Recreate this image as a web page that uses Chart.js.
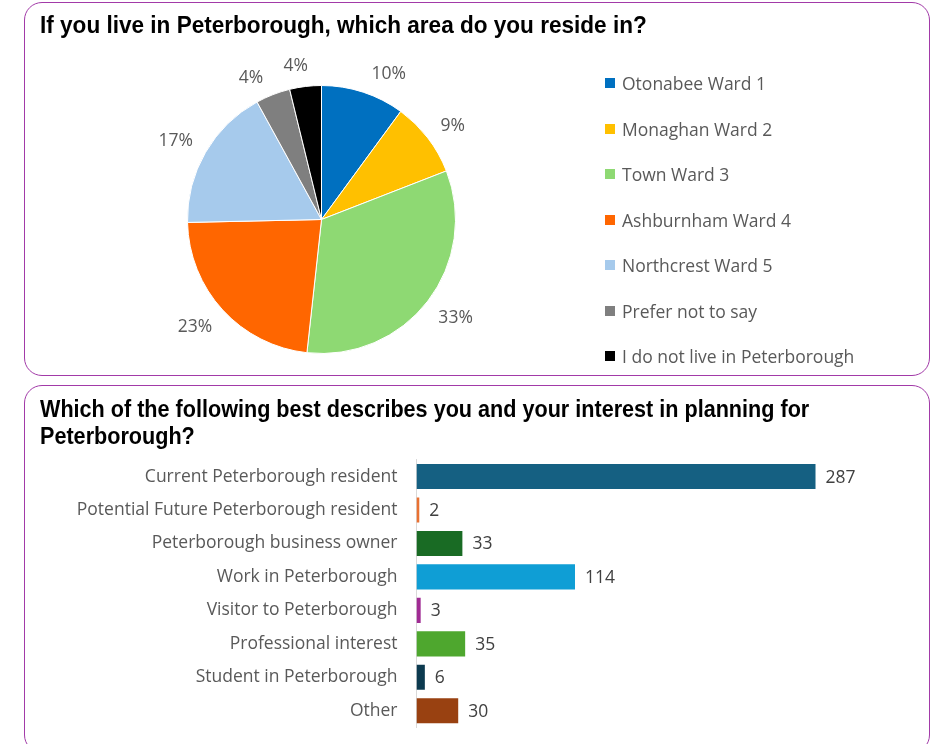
<!DOCTYPE html>
<html>
<head>
<meta charset="utf-8">
<script src="https://cdn.jsdelivr.net/npm/chart.js@4.4.1/dist/chart.umd.min.js"></script>
<style>
  body { margin: 0; background: #fff; width: 934px; height: 744px; overflow: hidden; position: relative; font-family: 'Open Sans', sans-serif; }
  .panel { position: absolute; left: 24px; width: 906px; border: 1.5px solid #a23aa8; border-radius: 18px; box-sizing: border-box; }
  #panel1 { top: 2px; height: 374px; }
  #panel2 { top: 385px; height: 368px; }
  .title { position: absolute; left: 40px; font-family: 'Liberation Sans', Arial, sans-serif; font-weight: bold; font-size: 24px; line-height: 27.3px; color: #000; white-space: nowrap; z-index: 2; transform: scaleX(0.94); transform-origin: left top; }
  #t1 { top: 11px; }
  #t2 { top: 395px; transform: scaleX(0.9); }
  .wrap { position: absolute; left: 25.5px; width: 903px; }
  #w1 { top: 3.5px; height: 371px; }
  #w2 { top: 386.5px; height: 380px; }
  #legend { position: absolute; left: 605px; top: 60.7px; margin: 0; padding: 0; list-style: none; font-size: 17.5px; color: #595959; z-index: 2; }
  #legend li { height: 45.5px; display: flex; align-items: center; white-space: nowrap; }
  #legend .box { width: 10px; height: 10px; margin-right: 7px; display: inline-block; }
</style>
</head>
<body>
<div class="panel" id="panel1"></div>
<div class="panel" id="panel2"></div>
<div class="title" id="t1">If you live in Peterborough, which area do you reside in?</div>
<div class="title" id="t2">Which of the following best describes you and your interest in planning for<br>Peterborough?</div>
<div class="wrap" id="w1"><canvas id="pieChart"></canvas></div>
<ul id="legend"></ul>
<div class="wrap" id="w2"><canvas id="barChart"></canvas></div>

<script>
// pie: area of residence
const wardNames = ['Otonabee Ward 1', 'Monaghan Ward 2', 'Town Ward 3', 'Ashburnham Ward 4',
    'Northcrest Ward 5', 'Prefer not to say', 'I do not live in Peterborough'];
const wardCounts = [29, 26, 94, 66, 50, 12, 11];
const wardColors = ['#0070c0', '#ffc000', '#8ed973', '#ff6600', '#a6caec', '#7f7f7f', '#000000'];
// small angle tweaks (degrees) so labels sit where excel put them
const labelNudge = [6.5, 1.8, -1.5, 2.4, -1.3, -5, -2.6];

// bar: interest in planning
const interestCats = ['Current Peterborough resident', 'Potential Future Peterborough resident',
    'Peterborough business owner', 'Work in Peterborough', 'Visitor to Peterborough',
    'Professional interest', 'Student in Peterborough', 'Other'];
const interestCounts = [287, 2, 33, 114, 3, 35, 6, 30];
const barColors = ['#156082', '#e97132', '#196b24', '#0f9ed5', '#a02b93', '#4ea72e', '#0c3a4f', '#994111'];

const labelFont = '17.5px "Open Sans"';

const pieLabels = {
    id: 'pieLabels',
    afterDatasetsDraw: (chart) => {
        const ctx = chart.ctx;
        const meta = chart.getDatasetMeta(0);
        const total = wardCounts.reduce((a, b) => a + b, 0);
        ctx.save();
        ctx.font = labelFont;
        ctx.fillStyle = '#595959';
        ctx.textAlign = 'center';
        ctx.textBaseline = 'middle';
        meta.data.forEach((arc, i) => {
            const p = arc.getProps(['x', 'y', 'startAngle', 'endAngle', 'outerRadius'], true);
            const txt = Math.round(wardCounts[i] / total * 100) + '%';
            const a = (p.startAngle + p.endAngle) / 2 + labelNudge[i] * Math.PI / 180;
            const w = ctx.measureText(txt).width;
            const d = p.outerRadius + 14 + w / 2 * Math.abs(Math.cos(a)) + 6.5 * Math.abs(Math.sin(a));
            ctx.fillText(txt, p.x + d * Math.cos(a), p.y + d * Math.sin(a) + 1);
        });
        ctx.restore();
    }
};

const htmlLegend = {
    id: 'htmlLegend',
    afterUpdate: (chart) => {
        const ul = document.getElementById('legend');
        ul.innerHTML = '';
        const items = chart.options.plugins.legend.labels.generateLabels(chart);
        items.forEach(item => {
            const li = document.createElement('li');
            const box = document.createElement('span');
            box.className = 'box';
            box.style.background = item.fillStyle;
            li.appendChild(box);
            li.appendChild(document.createTextNode(item.text));
            ul.appendChild(li);
        });
    }
};

const pie = document.getElementById('pieChart');
const pieChart = new Chart(pie, {
    type: 'pie',
    data: {
        labels: wardNames,
        datasets: [{
            data: wardCounts,
            backgroundColor: wardColors,
            borderColor: '#ffffff',
            borderWidth: 1,
            radius: 134,
        }],
    },
    options: {
        responsive: true,
        maintainAspectRatio: false,
        animation: false,
        layout: {
            padding: {left: 0, right: 312, top: 60, bottom: 0}
        },
        plugins: {
            legend: {display: false},
            tooltip: {enabled: false},
        },
    },
    plugins: [pieLabels, htmlLegend],
});

const barLabels = {
    id: 'barLabels',
    afterDatasetsDraw: (chart) => {
        const ctx = chart.ctx;
        const meta = chart.getDatasetMeta(0);
        ctx.save();
        ctx.font = labelFont;
        ctx.fillStyle = '#404040';
        ctx.textAlign = 'left';
        ctx.textBaseline = 'middle';
        meta.data.forEach((bar, i) => {
            ctx.fillText(String(interestCounts[i]), bar.x + 10, bar.y + 1);
        });
        ctx.restore();
    }
};

const bar = document.getElementById('barChart');
const barChart = new Chart(bar, {
    type: 'bar',
    data: {
        labels: interestCats,
        datasets: [{
            data: interestCounts,
            backgroundColor: barColors,
            barPercentage: 0.75,
            categoryPercentage: 1,
        }]
    },
    options: {
        indexAxis: 'y',
        responsive: true,
        maintainAspectRatio: false,
        animation: false,
        layout: {
            // canvas runs past the window bottom; the tick padding would otherwise lift the plot
            padding: {left: 0, right: 25.9, top: 72.8, bottom: 39.5}
        },
        plugins: {
            legend: {display: false},
            tooltip: {enabled: false},
        },
        scales: {
            x: {
                display: false,
                min: 0,
                max: 350,
            },
            y: {
                grid: {display: false, drawTicks: false},
                border: {display: true, color: '#d9d9d9', width: 1},
                ticks: {
                    color: '#595959',
                    padding: 19,
                    font: {family: 'Open Sans', size: 17.5}
                },
                afterFit: (scale) => { scale.width = 390.5; }
            }
        }
    },
    plugins: [barLabels],
});
</script>
</body>
</html>
